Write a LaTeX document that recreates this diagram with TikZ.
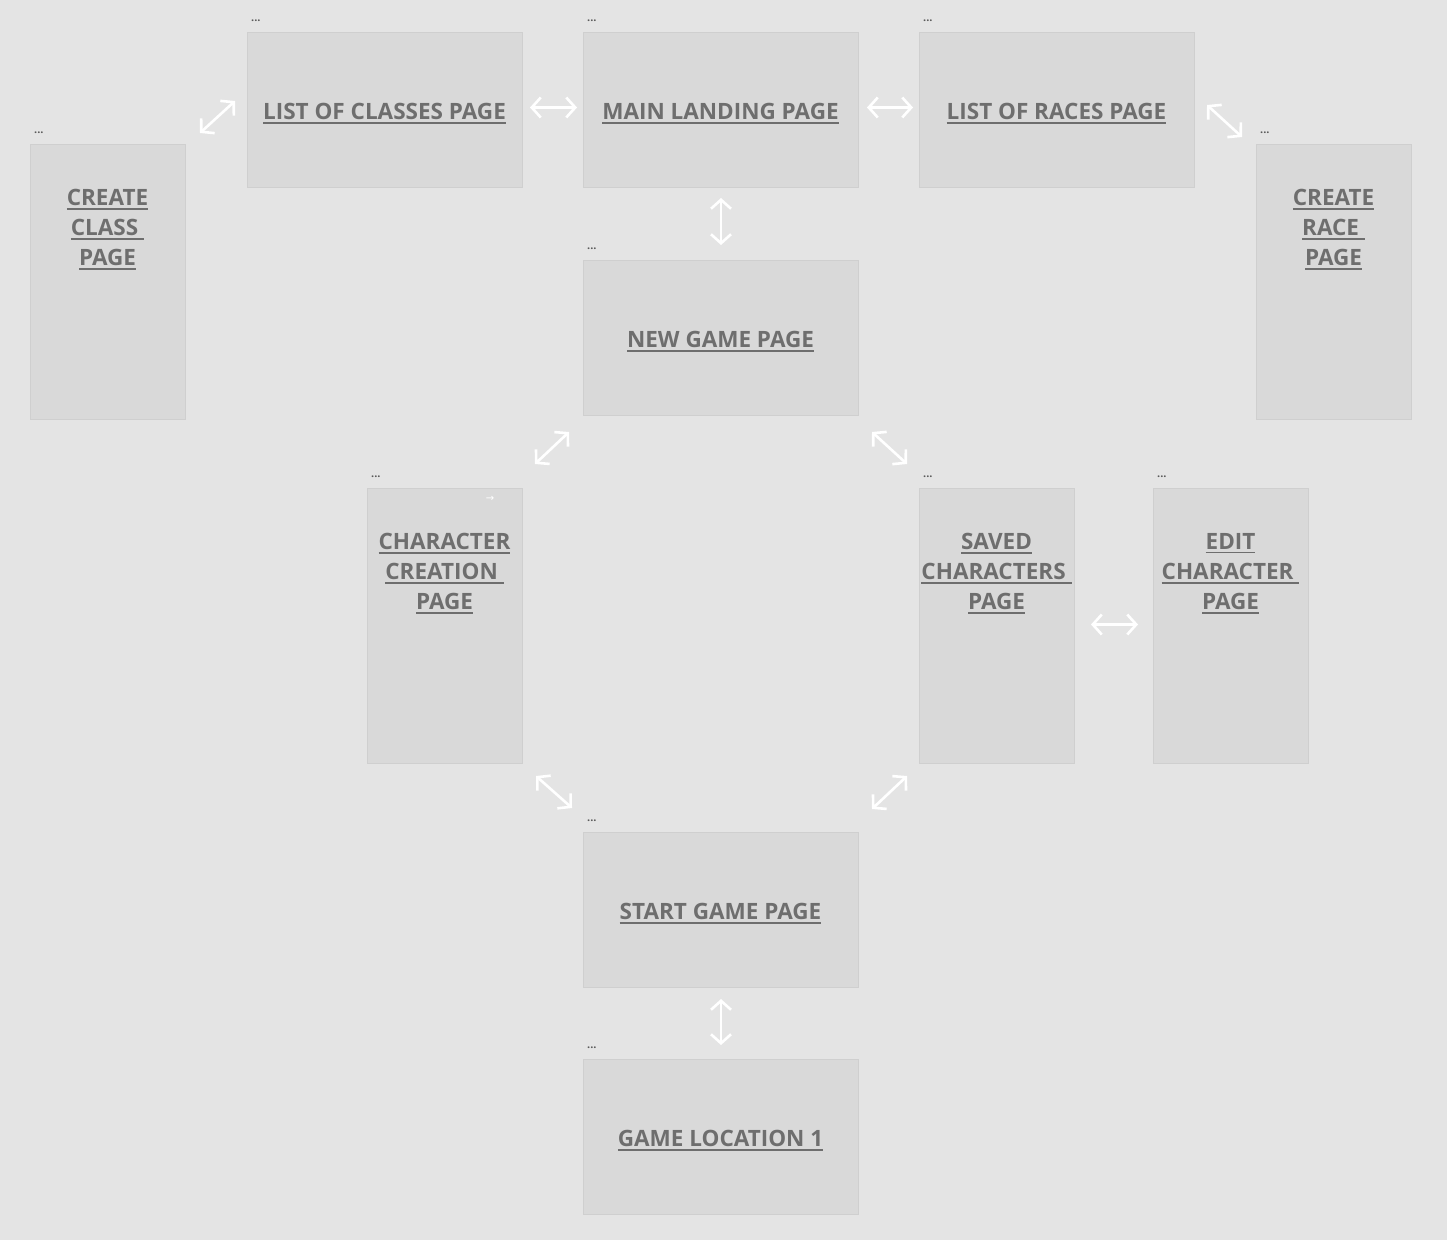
\documentclass[tikz,border=0pt]{standalone}
\usepackage{fontspec}
\setmainfont{Open Sans}
\setmonofont{DejaVu Sans}
\newcommand{\myul}[1]{\leavevmode\vtop{\hbox{#1}\kern2.5pt\hrule height 1.7pt}}
\usetikzlibrary{arrows.meta}
\definecolor{bgc}{HTML}{E4E4E4}
\definecolor{boxc}{HTML}{D9D9D9}
\definecolor{edgec}{HTML}{CFCFCF}
\definecolor{txtc}{HTML}{6E6E6E}
\definecolor{dotc}{HTML}{5A5A5A}
\tikzset{
  pagebox/.style={draw=edgec, line width=1pt, fill=boxc, inner sep=0pt, anchor=north west},
  widebox/.style={pagebox, minimum width=275pt, minimum height=155pt},
  tallbox/.style={pagebox, minimum width=155pt, minimum height=275pt},
  ptitle/.style={text=txtc, font=\fontsize{22.5}{30}\selectfont\bfseries, inner sep=0pt, align=center},
  dots/.style={text=dotc, font=\fontsize{11}{11}\selectfont\bfseries, inner sep=0pt, anchor=south west},
  link/.style={draw=white, line width=2.6pt, {Straight Barb[length=9pt,width=20pt]}-{Straight Barb[length=9pt,width=20pt]}}
}
\begin{document}
\begin{tikzpicture}[x=1pt,y=-1pt]
\fill[bgc] (0,0) rectangle (1447,1240);
\useasboundingbox (0,0) rectangle (1447,1240);

% wide boxes
\node[widebox] (classes) at (247,32) {};
\node[widebox] (main) at (583,32) {};
\node[widebox] (races) at (919,32) {};
\node[widebox] (newgame) at (583,260) {};
\node[widebox] (start) at (583,832) {};
\node[widebox] (loc) at (583,1059) {};
% tall boxes
\node[tallbox] (cclass) at (30,144) {};
\node[tallbox] (crace) at (1256,144) {};
\node[tallbox] (ccreate) at (367,488) {};
\node[tallbox] (saved) at (919,488) {};
\node[tallbox] (edit) at (1153,488) {};

% titles of wide boxes
\node[ptitle] (tclasses) at (384.5,113.5) {\myul{LIST OF CLASSES PAGE}};
\node[ptitle] (tmain) at (720.5,113.5) {\myul{MAIN LANDING PAGE}};
\node[ptitle] (traces) at (1056.5,113.5) {\myul{LIST OF RACES PAGE}};
\node[ptitle] (tnewgame) at (720.5,341.5) {\myul{NEW GAME PAGE}};
\node[ptitle] (tstart) at (720.5,913.5) {\myul{START GAME PAGE}};
\node[ptitle] (tloc) at (720.5,1140.5) {\myul{GAME LOCATION 1}};
% titles of tall boxes
\node[ptitle, anchor=north] (tcclass) at (107.5,189) {\myul{CREATE}\\\myul{CLASS\ }\\\myul{PAGE}};
\node[ptitle, anchor=north] (tcrace) at (1333.5,189) {\myul{CREATE}\\\myul{RACE\ }\\\myul{PAGE}};
\node[ptitle, anchor=north] (tccreate) at (444.5,533) {\myul{CHARACTER}\\\myul{CREATION\ }\\\myul{PAGE}};
\node[ptitle, anchor=north] (tsaved) at (996.5,533) {\myul{SAVED}\\\myul{CHARACTERS\ }\\\myul{PAGE}};
\node[ptitle, anchor=north] (tedit) at (1230.5,533) {\myul{EDIT}\\\myul{CHARACTER\ }\\\myul{PAGE}};

% small arrow glyph
\node[text=white, font=\ttfamily\fontsize{10}{10}\selectfont, inner sep=0pt] (smallarr) at (490,499) {→};

% dots labels
\foreach \b in {classes,main,races,newgame,start,loc,cclass,crace,ccreate,saved,edit}
  \node[dots] (d\b) at ([xshift=4pt,yshift=10pt]\b.north west) {...};

% connectors
\draw[link] ([xshift=7pt,yshift=2.5pt]classes.east) -- ([xshift=-6pt,yshift=2.5pt]main.west);
\draw[link] ([xshift=8pt,yshift=2.5pt]main.east) -- ([xshift=-6pt,yshift=2.5pt]races.west);
\draw[link] ([xshift=16pt,yshift=1.5pt]saved.east) -- ([xshift=-15pt,yshift=1.5pt]edit.west);
\draw[link] ([yshift=-10pt]main.south) -- ([yshift=15pt]newgame.north);
\draw[link] ([yshift=-11pt]start.south) -- ([yshift=14pt]loc.north);

\coordinate (a1) at (200,133); \coordinate (a2) at (235,101);
\coordinate (b1) at (1207,105); \coordinate (b2) at (1242,137);
\coordinate (c1) at (535,464); \coordinate (c2) at (569,432);
\coordinate (e1) at (872,432); \coordinate (e2) at (907,464);
\coordinate (f1) at (536,776); \coordinate (f2) at (572,808);
\coordinate (g1) at (872,809); \coordinate (g2) at (907,776);
\draw[link] (a1) -- (a2);
\draw[link] (b1) -- (b2);
\draw[link] (c1) -- (c2);
\draw[link] (e1) -- (e2);
\draw[link] (f1) -- (f2);
\draw[link] (g1) -- (g2);
\end{tikzpicture}
\end{document}
